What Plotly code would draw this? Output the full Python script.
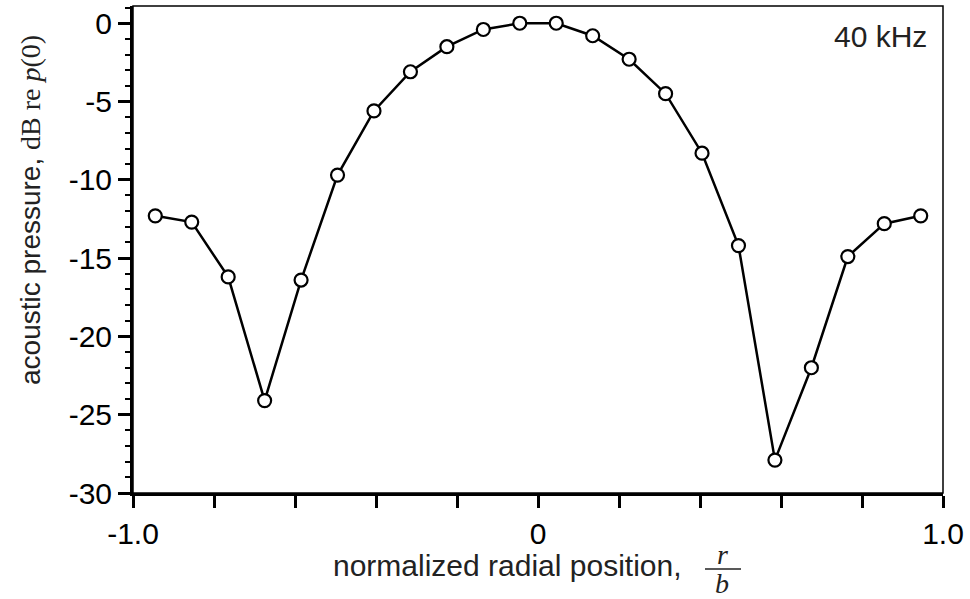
import plotly.graph_objects as go

# data
r_over_b = [-0.945, -0.855, -0.765, -0.675, -0.585, -0.495, -0.405, -0.315, -0.225, -0.135, -0.045,
            0.045, 0.135, 0.225, 0.315, 0.405, 0.495, 0.585, 0.675, 0.765, 0.855, 0.945]
pressure_db = [-12.3, -12.7, -16.2, -24.1, -16.4, -9.7, -5.6, -3.1, -1.5, -0.4, 0.0,
               0.0, -0.8, -2.3, -4.5, -8.3, -14.2, -27.9, -22.0, -14.9, -12.8, -12.3]

x_tick_vals = [-1.0, -0.8, -0.6, -0.4, -0.2, 0.0, 0.2, 0.4, 0.6, 0.8, 1.0]
x_tick_text = ["-1.0", "", "", "", "", "0", "", "", "", "", "1.0"]
y_tick_vals = [0, -5, -10, -15, -20, -25, -30]
y_tick_text = ["0", "-5", "-10", "-15", "-20", "-25", "-30"]

SANS = "Liberation Sans, Arial, Helvetica, sans-serif"
SERIF = "Liberation Serif, Times New Roman, serif"

L, R, T, B = 133, 943, 6, 493
W, H = R - L, B - T


def px(x):
    return (x - L) / W


def py(y):
    return (B - y) / H


fig = go.Figure()
fig.add_trace(go.Scatter(
    x=r_over_b, y=pressure_db, mode="lines+markers",
    line=dict(color="black", width=2.5),
    marker=dict(size=13, color="white", line=dict(color="black", width=2.2)),
    showlegend=False, hoverinfo="x+y",
))

fig.update_layout(
    width=970, height=599,
    margin=dict(l=L, r=970 - R, t=T, b=599 - B),
    paper_bgcolor="white", plot_bgcolor="white",
    font=dict(family=SANS, size=30, color="black"),
    xaxis=dict(range=[-1, 1], tickvals=x_tick_vals, ticktext=x_tick_text,
               ticks="outside", ticklen=12, tickwidth=2.5, tickcolor="black",
               showline=True, linewidth=3, linecolor="black",
               showgrid=False, zeroline=False,
               tickfont=dict(family=SANS, size=30, color="black")),
    yaxis=dict(range=[-30, 1.1], tickvals=y_tick_vals, ticktext=y_tick_text,
               ticks="outside", ticklen=12, tickwidth=2.5, tickcolor="black",
               minor=dict(dtick=1, ticks="outside", ticklen=5, tickwidth=2, tickcolor="black"),
               showline=True, linewidth=3, linecolor="black",
               showgrid=False, zeroline=False,
               tickfont=dict(family=SANS, size=30, color="black")),
)

# thin frame (top / right)
fig.add_shape(type="rect", xref="paper", yref="paper", x0=0, y0=0, x1=1, y1=1,
              line=dict(color="black", width=1.5), layer="above")

# y title with mixed fonts
fig.add_annotation(
    xref="paper", yref="paper", x=px(30), y=py(210), xanchor="center", yanchor="middle",
    textangle=-90, showarrow=False,
    text=("acoustic pressure, "
          f"<span style='font-family:{SERIF}'>dB re <i>p</i>(0)</span>"),
    font=dict(family=SANS, size=28, color="#222"),
)

# x title
fig.add_annotation(
    xref="paper", yref="paper", x=px(684), y=py(565),
    xanchor="right", yanchor="middle", showarrow=False,
    text="normalized radial position,",
    font=dict(family=SANS, size=30, color="#222"),
)
# fraction r / b
fig.add_annotation(xref="paper", yref="paper", x=px(722), y=py(554),
                   xanchor="center", yanchor="middle", showarrow=False,
                   text="<i>r</i>", font=dict(family=SERIF, size=28, color="#222"))
fig.add_annotation(xref="paper", yref="paper", x=px(722), y=py(583),
                   xanchor="center", yanchor="middle", showarrow=False,
                   text="<i>b</i>", font=dict(family=SERIF, size=28, color="#222"))
fig.add_shape(type="line", xref="paper", yref="paper",
              x0=px(705), x1=px(741), y0=py(569), y1=py(569),
              line=dict(color="#222", width=1.3))

# frequency label
fig.add_annotation(xref="paper", yref="paper", x=px(929), y=py(36),
                   xanchor="right", yanchor="middle", showarrow=False,
                   text="40 kHz", font=dict(family=SANS, size=30, color="#222"))

fig.write_html("out.html")
